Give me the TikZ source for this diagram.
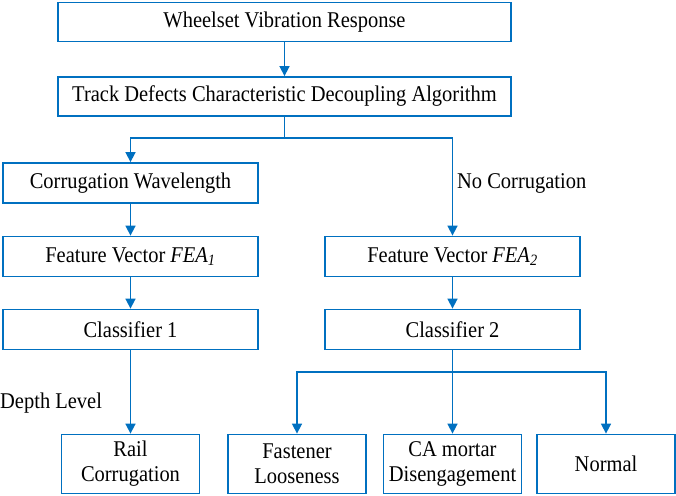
\documentclass[tikz,border=0pt]{standalone}
\usepackage{fontspec}
\setmainfont{Liberation Serif}[FakeStretch=0.91]
\usetikzlibrary{arrows.meta}
\definecolor{flowblue}{RGB}{0,112,192}
\begin{document}
\begin{tikzpicture}[x=1pt,y=-1pt,
	font=\rmfamily\fontsize{22.5}{25}\selectfont,
	wide/.style={draw=flowblue,line width=1.8pt,inner sep=0pt,minimum width=453pt,minimum height=39pt},
	mid/.style={draw=flowblue,line width=1.8pt,inner sep=0pt,minimum width=255pt,minimum height=40pt},
	leaf/.style={draw=flowblue,line width=1.8pt,inner sep=0pt,minimum width=138pt,minimum height=59pt,align=center},
	link/.style={draw=flowblue,line width=1.6pt},
	arr/.style={link,-{Triangle[width=10pt,length=10pt]}}]
	\useasboundingbox (0,0) rectangle (676,495);
	
	% main chain
	\node[wide] (resp) at (284.5,22) {Wheelset Vibration Response};
	\node[wide] (algo) at (284.5,96.5) {Track Defects Characteristic Decoupling Algorithm};
	
	% left branch
	\node[mid] (wave) at (130.5,183) {Corrugation Wavelength};
	\node[mid] (feaA) at (130.5,256.5) {Feature Vector \textit{FEA}\textsubscript{\textit{1}}};
	\node[mid] (clsA) at (130.5,329.5) {Classifier 1};
	
	% right branch
	\node[mid] (feaB) at (452.5,256.5) {Feature Vector \textit{FEA}\textsubscript{\textit{2}}};
	\node[mid] (clsB) at (452.5,329.5) {Classifier 2};
	
	% results
	\node[leaf] (rail) at (130.5,464) {Rail\\Corrugation};
	\node[leaf] (fast) at (297,464) {Fastener\\Looseness};
	\node[leaf] (mort) at (452.5,464) {CA mortar\\Disengagement};
	\node[leaf] (norm) at (606,464) {Normal};
	
	% labels
	\node[anchor=west,inner sep=0pt] (nocorr) at (457,183) {No Corrugation};
	\node[anchor=west,inner sep=0pt] (depth) at (0,403) {Depth Level};
	
	% connectors
	\coordinate (splitA) at (284.5,138);
	\coordinate (splitB) at (452.5,372);
	\draw[arr] (resp) -- (algo);
	\draw[link] (algo) -- (splitA);
	\draw[arr] (splitA) -| (wave);
	\draw[arr] (splitA) -| (feaB);
	\draw[arr] (wave) -- (feaA);
	\draw[arr] (feaA) -- (clsA);
	\draw[arr] (feaB) -- (clsB);
	\draw[arr] (clsA) -- (rail);
	\draw[link] (clsB) -- (splitB);
	\foreach \leafname in {fast,mort,norm}
	\draw[arr] (splitB) -| (\leafname);
\end{tikzpicture}
\end{document}
